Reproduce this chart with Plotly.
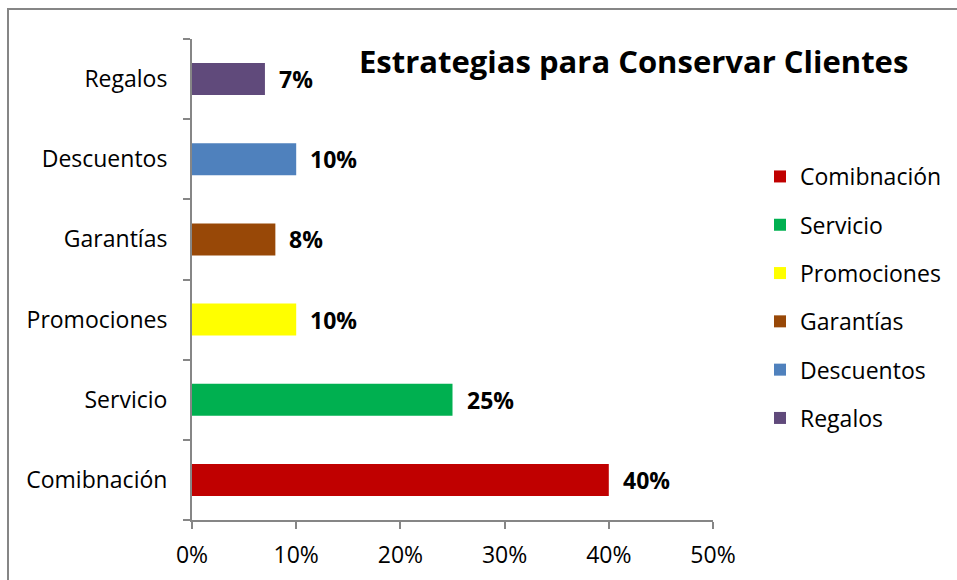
import plotly.graph_objects as go

# Estrategias y porcentaje de uso
categorias = ["Comibnación", "Servicio", "Promociones", "Garantías", "Descuentos", "Regalos"]
valores = [0.40, 0.25, 0.10, 0.08, 0.10, 0.07]
colores = ["#C00000", "#00B050", "#FFFF00", "#984807", "#4F81BD", "#604A7B"]
etiquetas = ["40%", "25%", "10%", "8%", "10%", "7%"]
ticks_x = [0, 0.1, 0.2, 0.3, 0.4, 0.5]
ticks_x_texto = ["0%", "10%", "20%", "30%", "40%", "50%"]

FUENTE = "'Open Sans', Lato, sans-serif"
GRIS = "#868686"
W, H = 957, 580

fig = go.Figure()
for cat, val, col in zip(categorias, valores, colores):
    fig.add_trace(go.Bar(
        y=[cat], x=[val], orientation="h", name=cat,
        marker=dict(color=col, line=dict(width=0)),
        legendgroup=cat, showlegend=True, hoverinfo="x+y",
    ))

# Etiquetas de valor junto al extremo de cada barra
for cat, val, txt in zip(categorias, valores, etiquetas):
    fig.add_annotation(
        x=val, y=cat, text=f"<b>{txt}</b>", showarrow=False,
        xanchor="left", yanchor="middle", xshift=12,
        font=dict(family=FUENTE, size=23, color="#000000"),
    )

# Título
fig.add_annotation(
    xref="paper", yref="paper", x=(633 - 192) / 521, y=1 + (39 - 61) / 481,
    text="<b>Estrategias para Conservar Clientes</b>", showarrow=False,
    xanchor="center", yanchor="middle",
    font=dict(family=FUENTE, size=31, color="#000000"),
)

# Marco exterior del gráfico
fig.add_shape(
    type="rect", xref="paper", yref="paper",
    x0=(8 - 192) / 521, x1=(990 - 192) / 521,
    y0=1 - (620 - 39) / 481, y1=1 + (39 - 9) / 481,
    line=dict(color=GRIS, width=2), fillcolor="rgba(0,0,0,0)", layer="below",
)

fig.update_layout(
    width=W, height=H,
    margin=dict(l=192, r=244, t=39, b=60, autoexpand=False),
    paper_bgcolor="white", plot_bgcolor="white",
    barmode="overlay", bargap=0.6,
    font=dict(family=FUENTE, color="#000000"),
    showlegend=True,
    legend=dict(
        xref="container", yref="container",
        x=760 / W, y=1 - 155 / H, xanchor="left", yanchor="top",
        font=dict(family=FUENTE, size=23, color="#000000"),
        traceorder="grouped", tracegroupgap=15.4,
        bgcolor="rgba(0,0,0,0)",
    ),
    xaxis=dict(
        range=[0, 0.5], tickvals=ticks_x, ticktext=ticks_x_texto,
        showgrid=False, zeroline=False,
        showline=True, linecolor=GRIS, linewidth=2,
        ticks="outside", ticklen=7, tickwidth=2, tickcolor=GRIS,
        tickfont=dict(family=FUENTE, size=23, color="#000000"),
        ticklabelstandoff=6,
    ),
    yaxis=dict(
        categoryorder="array", categoryarray=categorias,
        showgrid=False, zeroline=False,
        showline=True, linecolor=GRIS, linewidth=2,
        ticks="outside", tickson="boundaries", ticklen=7, tickwidth=2, tickcolor=GRIS,
        tickfont=dict(family=FUENTE, size=23, color="#000000"),
        ticklabelstandoff=18,
    ),
)

fig.write_html("out.html")
